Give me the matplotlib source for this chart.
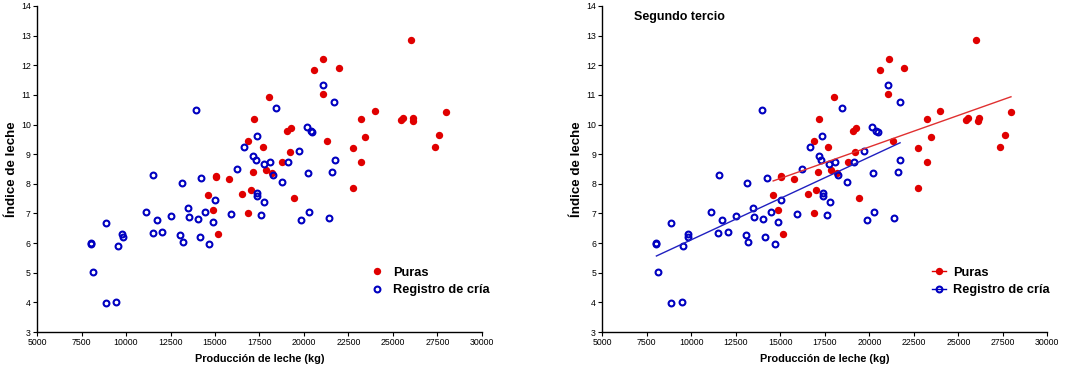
import numpy as np
import matplotlib
matplotlib.use('Agg')
from matplotlib import pyplot as plt

plt.rcParams['font.family'] = ['Liberation Sans', 'DejaVu Sans']

# Puras (red, filled)
puras_x = [26020, 21090, 20590, 21970, 21040, 18035, 23980, 27960, 17190, 23230,
           25460, 25540, 26120, 26150, 27600, 23455, 19070, 19250, 16870, 21320,
           17700, 22760, 27340, 19220, 18790, 23230, 17120, 17850, 18180, 15030,
           15050, 15770, 16530, 17020, 22760, 14600, 19420, 14860, 16870, 15170]
puras_y = [12.86, 12.21, 11.83, 11.91, 11.03, 10.92, 10.45, 10.43, 10.18, 10.18,
           10.15, 10.23, 10.13, 10.22, 9.64, 9.59, 9.79, 9.87, 9.43, 9.44,
           9.23, 9.20, 9.24, 9.06, 8.73, 8.72, 8.39, 8.46, 8.37, 8.22,
           8.28, 8.15, 7.67, 7.80, 7.85, 7.62, 7.53, 7.12, 7.00, 6.32]

# Registro de cria (blue, open)
registro_x = [21070, 21710, 18450, 13950, 20170, 20400, 20470, 17360, 16650, 19720,
              17150, 17290, 17730, 18070, 19120, 21730, 16220, 11530, 14230, 18260,
              20200, 21590, 13140, 18750, 17380, 17380, 15020, 17770, 13460, 11130,
              14460, 20270, 15920, 17600, 12520, 13530, 14040, 11730, 14880, 19850,
              21410, 8880, 11490, 12040, 13050, 14150, 9800, 9820, 13200, 14680,
              8040, 8040, 9540, 8150, 8880, 9460]
registro_y = [11.32, 10.77, 10.57, 10.48, 9.91, 9.78, 9.76, 9.61, 9.24, 9.10,
              8.95, 8.79, 8.67, 8.74, 8.74, 8.79, 8.51, 8.29, 8.21, 8.29,
              8.37, 8.39, 8.02, 8.05, 7.70, 7.59, 7.44, 7.39, 7.19, 7.06,
              7.04, 7.06, 6.97, 6.95, 6.93, 6.87, 6.81, 6.77, 6.70, 6.77,
              6.84, 6.68, 6.33, 6.36, 6.26, 6.22, 6.29, 6.19, 6.04, 5.97,
              6.00, 5.96, 5.89, 5.04, 3.99, 4.01]

x_ticks = [5000, 7500, 10000, 12500, 15000, 17500, 20000, 22500, 25000, 27500, 30000]
y_ticks = [3, 4, 5, 6, 7, 8, 9, 10, 11, 12, 13, 14]

red = '#e00000'
blue = '#0000c0'

fig = plt.figure(figsize=(10.79, 3.65), dpi=100)
ax1 = fig.add_axes([0.0343, 0.0904, 0.4124, 0.8932])
ax2 = fig.add_axes([0.5582, 0.0904, 0.4124, 0.8932])


def style(ax):
    ax.set_xlim(5000, 30000)
    ax.set_ylim(3, 14)
    ax.set_xticks(x_ticks)
    ax.set_yticks(y_ticks)
    ax.tick_params(direction='out', length=3, width=0.8, labelsize=6.3, pad=1.5)
    for s in ['top', 'right']:
        ax.spines[s].set_visible(False)
    ax.spines['left'].set_linewidth(1)
    ax.spines['bottom'].set_linewidth(1)
    ax.set_xlabel('Producción de leche (kg)', fontsize=7.8, fontweight='bold', labelpad=4.5)
    ax.set_ylabel('Índice de leche', fontsize=9.6, fontweight='bold', labelpad=2)


for ax in [ax1, ax2]:
    style(ax)

# left panel: points only
ax1.plot(puras_x, puras_y, 'o', color=red, ms=5.3, mew=0, label='Puras')
ax1.plot(registro_x, registro_y, 'o', mfc='none', mec=blue, ms=4.2, mew=1.5,
         label='Registro de cría')
ax1.legend(loc='upper left', bbox_to_anchor=(0.75, 0.20), frameon=False,
           prop={'size': 9.2, 'weight': 'bold'}, handlelength=1.0, handletextpad=0.75,
           labelspacing=0.42, borderpad=0, borderaxespad=0)

# right panel: points + regression lines
ax2.plot(puras_x, puras_y, 'o', color=red, ms=5.3, mew=0)
ax2.plot(registro_x, registro_y, 'o', mfc='none', mec=blue, ms=4.2, mew=1.5)

for xs, ys, ls_c in [(puras_x, puras_y, '#e03030'),
                     (registro_x, registro_y, '#2020c0')]:
    xs = np.array(xs)
    k, b = np.polyfit(xs, ys, 1)
    xl = np.array([xs.min(), xs.max()])
    ax2.plot(xl, k * xl + b, color=ls_c, lw=1)

ax2.plot([], [], 'o-', color=red, ms=5.3, mew=0, lw=1, label='Puras')
ax2.plot([], [], 'o-', color=blue, mfc='none', mec=blue, ms=4.2, mew=1.5, lw=1,
         label='Registro de cría')
ax2.legend(loc='upper left', bbox_to_anchor=(0.742, 0.20), frameon=False,
           prop={'size': 9.2, 'weight': 'bold'}, handlelength=1.05, handletextpad=0.55,
           labelspacing=0.42, borderpad=0, borderaxespad=0)

ax2.text(0.072, 0.966, 'Segundo tercio', transform=ax2.transAxes, fontsize=9,
         fontweight='bold', va='center', ha='left')

fig.savefig('out.png', dpi=100)
